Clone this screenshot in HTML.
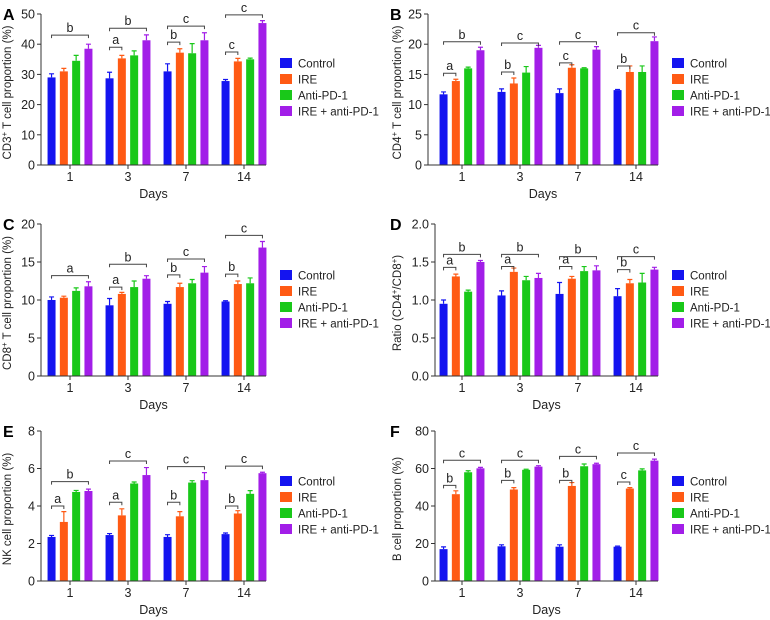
<!DOCTYPE html>
<html><head><meta charset="utf-8"><style>
html,body{margin:0;padding:0;background:#fff;}
svg{display:block;font-family:"Liberation Sans",Arial,sans-serif;}
</style></head><body>
<svg id="fig" width="770" height="620" viewBox="0 0 770 620" xmlns="http://www.w3.org/2000/svg"></svg>
<script>
const days = ['1','3','7','14'];
const seriesNames = ['Control','IRE','Anti-PD-1','IRE + anti-PD-1'];
const colors = ['#1414f0','#ff5a14','#19c819','#a21ee8'];

// Panel A - CD3+
const A_control=[29,28.7,31,27.8], A_controlErr=[1.2,2,2.5,0.5];
const A_ire=[31,35.3,37.2,34.3], A_ireErr=[1,1,1.3,1];
const A_anti=[34.5,36.3,37,35], A_antiErr=[1.8,1.5,3.2,0.4];
const A_combo=[38.5,41.3,41.3,47], A_comboErr=[1.5,1.8,2.5,0.8];
const A_ticks=[0,10,20,30,40,50];
const A_brackets=[[0,3,43,'b'],[1,1,39,'a'],[1,3,45.3,'b'],[2,1,40.7,'b'],[2,3,46,'c'],[3,1,37.4,'c'],[3,3,49.7,'c']];
// Panel B - CD4+
const B_control=[11.7,12.1,11.9,12.4], B_controlErr=[0.4,0.5,0.7,0.1];
const B_ire=[13.9,13.5,16.1,15.4], B_ireErr=[0.3,0.9,0.5,1];
const B_anti=[16,15.3,16,15.4], B_antiErr=[0.2,1,0.1,1];
const B_combo=[19,19.4,19.1,20.5], B_comboErr=[0.5,0.4,0.5,0.7];
const B_ticks=[0,5,10,15,20,25];
const B_brackets=[[0,1,15.2,'a'],[0,3,20.4,'b'],[1,1,15.4,'b'],[1,3,20.2,'c'],[2,1,16.9,'c'],[2,3,20.4,'c'],[3,1,16.4,'b'],[3,3,21.9,'c']];
// Panel C - CD8+
const C_control=[10,9.3,9.5,9.8], C_controlErr=[0.4,0.9,0.3,0.1];
const C_ire=[10.3,10.8,11.7,12.1], C_ireErr=[0.2,0.2,0.5,0.4];
const C_anti=[11.2,11.7,12.2,12.2], C_antiErr=[0.4,0.8,0.5,0.7];
const C_combo=[11.8,12.8,13.6,16.9], C_comboErr=[0.6,0.4,0.8,0.8];
const C_ticks=[0,5,10,15,20];
const C_brackets=[[0,3,13.2,'a'],[1,1,11.7,'a'],[1,3,14.7,'b'],[2,1,13.3,'b'],[2,3,15.4,'c'],[3,1,13.4,'b'],[3,3,18.5,'c']];
// Panel D - ratio
const D_control=[0.95,1.06,1.08,1.05], D_controlErr=[0.05,0.06,0.15,0.1];
const D_ire=[1.31,1.37,1.28,1.22], D_ireErr=[0.03,0.05,0.03,0.05];
const D_anti=[1.11,1.26,1.38,1.23], D_antiErr=[0.02,0.05,0.06,0.12];
const D_combo=[1.5,1.29,1.39,1.4], D_comboErr=[0.02,0.06,0.06,0.03];
const D_ticks=[0,0.5,1,1.5,2];
const D_brackets=[[0,1,1.43,'a'],[0,3,1.6,'b'],[1,1,1.44,'a'],[1,3,1.6,'b'],[2,1,1.44,'a'],[2,3,1.57,'b'],[3,1,1.4,'b'],[3,3,1.57,'c']];
// Panel E - NK
const E_control=[2.35,2.45,2.35,2.5], E_controlErr=[0.08,0.08,0.12,0.06];
const E_ire=[3.15,3.5,3.45,3.6], E_ireErr=[0.55,0.35,0.25,0.15];
const E_anti=[4.75,5.2,5.25,4.65], E_antiErr=[0.08,0.08,0.1,0.17];
const E_combo=[4.8,5.65,5.38,5.75], E_comboErr=[0.1,0.4,0.4,0.05];
const E_ticks=[0,2,4,6,8];
const E_brackets=[[0,1,4,'a'],[0,3,5.3,'b'],[1,1,4.2,'a'],[1,3,6.4,'c'],[2,1,4.2,'b'],[2,3,6.1,'c'],[3,1,4,'b'],[3,3,6.13,'c']];
// Panel F - B cell
const F_control=[17,18.5,18.3,18.3], F_controlErr=[1.2,0.8,1,0.3];
const F_ire=[46.3,48.8,50.7,49.3], F_ireErr=[1.8,1,1.8,0.5];
const F_anti=[58,59.3,61.2,59], F_antiErr=[0.8,0.3,1.2,0.8];
const F_combo=[60.1,61,62.3,64.2], F_comboErr=[0.5,0.5,0.5,0.8];
const F_ticks=[0,20,40,60,80];
const F_brackets=[[0,1,51,'b'],[0,3,64.4,'c'],[1,1,53.7,'b'],[1,3,64.4,'c'],[2,1,53.7,'b'],[2,3,66.5,'c'],[3,1,52.8,'c'],[3,3,68.3,'c']];

const panels=[
 {key:'a',letter:'A',lx:3,ax:41,top:14,bot:165,xend:266,g0:70,yt:'CD3',sup:'+',rest:' T cell proportion (%)',tx:11,legX:280,legY:63,means:[A_control,A_ire,A_anti,A_combo],errs:[A_controlErr,A_ireErr,A_antiErr,A_comboErr],ticks:A_ticks,br:A_brackets,dec:0},
 {key:'b',letter:'B',lx:390,ax:428,top:14,bot:165,xend:658,g0:462,yt:'CD4',sup:'+',rest:' T cell proportion (%)',tx:401,legX:672,legY:63,means:[B_control,B_ire,B_anti,B_combo],errs:[B_controlErr,B_ireErr,B_antiErr,B_comboErr],ticks:B_ticks,br:B_brackets,dec:0},
 {key:'c',letter:'C',lx:3,ax:41,top:224,bot:376,xend:266,g0:70,yt:'CD8',sup:'+',rest:' T cell proportion (%)',tx:11,legX:280,legY:275,means:[C_control,C_ire,C_anti,C_combo],errs:[C_controlErr,C_ireErr,C_antiErr,C_comboErr],ticks:C_ticks,br:C_brackets,dec:0},
 {key:'d',letter:'D',lx:390,ax:435,top:224,bot:376,xend:658,g0:462,yt:'ratio',tx:401,legX:672,legY:275,means:[D_control,D_ire,D_anti,D_combo],errs:[D_controlErr,D_ireErr,D_antiErr,D_comboErr],ticks:D_ticks,br:D_brackets,dec:1},
 {key:'e',letter:'E',lx:3,ax:41,top:431,bot:581,xend:266,g0:70,yt:'NK cell proportion (%)',tx:11,legX:280,legY:481,means:[E_control,E_ire,E_anti,E_combo],errs:[E_controlErr,E_ireErr,E_antiErr,E_comboErr],ticks:E_ticks,br:E_brackets,dec:0},
 {key:'f',letter:'F',lx:390,ax:435,top:431,bot:581,xend:658,g0:462,yt:'B cell proportion (%)',tx:401,legX:672,legY:481,means:[F_control,F_ire,F_anti,F_combo],errs:[F_controlErr,F_ireErr,F_antiErr,F_comboErr],ticks:F_ticks,br:F_brackets,dec:0}
];

const NS='http://www.w3.org/2000/svg';
const svg=document.getElementById('fig');
function mk(tag,attrs,parent){const e=document.createElementNS(NS,tag);for(const k in attrs)e.setAttribute(k,attrs[k]);parent.appendChild(e);return e;}
const GAP=58, STEP=12.3, BW=8, FS=12.5;

panels.forEach(p=>{
  const g=mk('g',{},svg);
  
  
  const ymax=p.ticks[p.ticks.length-1];
  const y=v=>p.bot-(v/ymax)*(p.bot-p.top);
  const gx=i=>p.g0+i*GAP;
  const bx=(i,s)=>gx(i)+(s-1.5)*STEP;

  const lt=mk('text',{x:p.lx,y:p.top+6,'font-size':16,'font-weight':'bold',fill:'#000'},g);
  lt.textContent=p.letter;
  
  

  for(let s=0;s<4;s++){
    for(let i=0;i<days.length;i++){
      const v=p.means[s][i], e=p.errs[s][i], cx=bx(i,s);
      const r=mk('rect',{x:cx-BW/2,y:y(v),width:BW,height:p.bot-y(v),fill:colors[s]},g);
      
      
      const eb=mk('path',{d:`M${cx},${y(v)} V${y(v+e)} M${cx-2.5},${y(v+e)} H${cx+2.5}`,stroke:colors[s],'stroke-width':1.2,fill:'none'},g);
      
      
    }
  }
  const ax=mk('path',{d:`M${p.ax},${p.top} V${p.bot} H${p.xend}`,stroke:'#333',fill:'none','stroke-width':1},g);
  
  
  p.ticks.forEach(t=>{
    mk('line',{x1:p.ax-4,x2:p.ax,y1:y(t),y2:y(t),stroke:'#333'},g);
    const tl=mk('text',{x:p.ax-6,y:y(t)+4.5,'font-size':FS,'text-anchor':'end',fill:'#222'},g);
    tl.textContent=p.dec?t.toFixed(1):String(t);
    
    
  });
  days.forEach((d,i)=>{
    mk('line',{x1:gx(i),x2:gx(i),y1:p.bot,y2:p.bot+4,stroke:'#333'},g);
    const tl=mk('text',{x:gx(i),y:p.bot+16,'font-size':FS,'text-anchor':'middle',fill:'#222'},g);
    tl.textContent=d;
    
    
  });
  const xt=mk('text',{x:(p.ax+p.xend)/2,y:p.bot+33,'font-size':FS,'text-anchor':'middle',fill:'#222'},g);
  xt.textContent='Days';
  
  
  const cy=(p.top+p.bot)/2+3;
  const yt=mk('text',{x:0,y:0,'font-size':11.5,'text-anchor':'middle',fill:'#222',transform:`translate(${p.tx},${cy}) rotate(-90)`},g);
  
  
  const sp=(txt,sup)=>{const t=mk('tspan',sup?{'font-size':8,dy:-4}:{},yt);t.textContent=txt;return t;};
  if(p.yt==='ratio'){
    sp('Ratio (CD4');sp('+',1);const a=mk('tspan',{dy:4},yt);a.textContent='/CD8';sp('+',1);const b=mk('tspan',{dy:4},yt);b.textContent=')';
  } else if(p.sup){
    sp(p.yt);sp(p.sup,1);const a=mk('tspan',{dy:4},yt);a.textContent=p.rest;
  } else { yt.textContent=p.yt; }
  p.br.forEach(b=>{
    const [i,to,v,lab]=b;
    const x1=bx(i,0),x2=bx(i,to),yy=y(v);
    const bp=mk('path',{d:`M${x1},${yy+3} V${yy} H${x2} V${yy+3}`,stroke:'#444',fill:'none','stroke-width':1},g);
    
    
    const bt=mk('text',{x:(x1+x2)/2,y:yy-3,'font-size':FS,'text-anchor':'middle',fill:'#222'},g);
    bt.textContent=lab;
    
    
  });
  seriesNames.forEach((n,s)=>{
    const ly=p.legY+s*16;
    const sw=mk('rect',{x:p.legX,y:ly-5,width:12,height:10,fill:colors[s]},g);
    
    
    const lt2=mk('text',{x:p.legX+18,y:ly+4.5,'font-size':11.5,fill:'#222'},g);
    lt2.textContent=n;
    
    
  });
});
</script>
</body></html>
